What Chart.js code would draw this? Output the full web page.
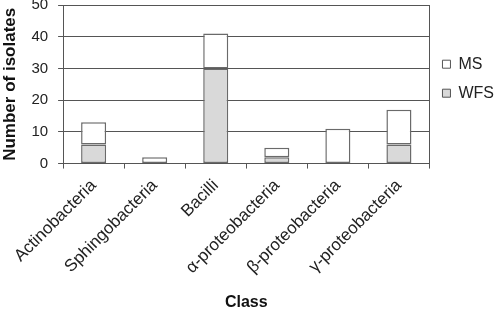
<!DOCTYPE html>
<html>
<head>
<meta charset="utf-8">
<script src="https://cdn.jsdelivr.net/npm/chart.js@4.4.0/dist/chart.umd.min.js"></script>
<style>
  html, body { margin: 0; padding: 0; background: #fff; }
  #chart { display: block; }
</style>
</head>
<body>
<canvas id="chart" width="497" height="320"></canvas>
<script>
var classes = ["Actinobacteria", "Sphingobacteria", "Bacilli",
               "\u03b1-proteobacteria", "\u03b2-proteobacteria", "\u03b3-proteobacteria"];
var wfsCounts = [6, 0, 30, 2, 0, 6];
var msCounts  = [7, 2, 11, 3, 11, 11];
var yTicks    = [0, 10, 20, 30, 40, 50];

Chart.defaults.font.family = "'Liberation Sans', Arial, sans-serif";
Chart.defaults.color = "#222";

// empty segments are not drawn at all
function noZero(arr) {
	return arr.map(function (v) { return v === 0 ? null : v; });
}

// right side of the plot frame
var frameRight = {
	id: "frameRight",
	afterDraw: function (chart) {
		var a = chart.chartArea, ctx = chart.ctx;
		ctx.save();
		ctx.strokeStyle = "#555";
		ctx.lineWidth = 1;
		ctx.beginPath();
		ctx.moveTo(Math.round(a.right) + 0.5, a.top);
		ctx.lineTo(Math.round(a.right) + 0.5, a.bottom);
		ctx.stroke();
		ctx.restore();
	}
};

var ctx = document.getElementById("chart");
var barChart = new Chart(ctx, {
	type: "bar",
	data: {
		labels: classes,
		datasets: [
			{
				label: "WFS",
				data: noZero(wfsCounts),
				backgroundColor: "#d9d9d9",
				borderColor: "#6a6a6a",
				borderWidth: 1.5,
				borderSkipped: false,
				barPercentage: 0.41,
				categoryPercentage: 1
			},
			{
				label: "MS",
				data: noZero(msCounts),
				backgroundColor: "#ffffff",
				borderColor: "#6a6a6a",
				borderWidth: 1.5,
				borderSkipped: false,
				barPercentage: 0.41,
				categoryPercentage: 1
			}
		]
	},
	options: {
		responsive: false,
		animation: false,
		layout: { padding: { top: 5, right: -7, bottom: 8, left: 0 } },
		plugins: {
			tooltip: { enabled: false },
			legend: {
				position: "right",
				align: "start",
				reverse: true,
				title: {
					display: true,
					text: " ",
					font: { size: 16 },
					padding: { top: 11, bottom: 8 }
				},
				labels: {
					boxWidth: 8,
					boxHeight: 8,
					padding: 13,
					color: "#222",
					font: { size: 16 },
					generateLabels: function (chart) {
						return chart.data.datasets.map(function (ds, i) {
							return {
								text: ds.label,
								fillStyle: ds.backgroundColor,
								strokeStyle: "#555",
								lineWidth: 1,
								datasetIndex: i
							};
						});
					}
				}
			}
		},
		scales: {
			x: {
				stacked: true,
				grid: {
					offset: true,
					drawOnChartArea: false,
					drawTicks: true,
					tickLength: 5,
					color: "#555"
				},
				border: { color: "#555", width: 1 },
				ticks: {
					maxRotation: 45,
					minRotation: 45,
					font: { size: 17 },
					color: "#222",
					padding: 7
				},
				title: {
					display: true,
					text: "Class",
					font: { size: 16, weight: "bold" },
					color: "#111",
					padding: { top: 8, bottom: 0 }
				}
			},
			y: {
				stacked: true,
				min: yTicks[0],
				max: yTicks[yTicks.length - 1],
				afterFit: function (scale) {
					scale.paddingTop = 0;
					scale.paddingBottom = 0;
				},
				ticks: {
					stepSize: 10,
					font: { size: 15 },
					color: "#222",
					padding: 10
				},
				grid: { color: "#555", tickLength: 5 },
				border: { color: "#555", width: 1 },
				title: {
					display: true,
					text: "Number of isolates",
					font: { size: 17, weight: "bold" },
					color: "#111",
					padding: { top: 0, bottom: 1 }
				}
			}
		}
	},
	plugins: [frameRight]
});
</script>
</body>
</html>
